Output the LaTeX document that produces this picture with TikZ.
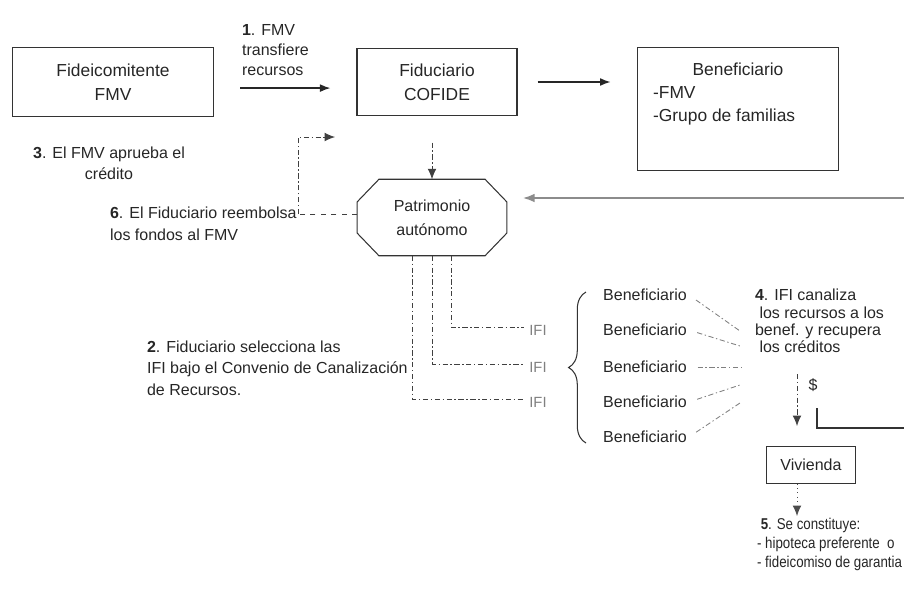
\documentclass[tikz,border=0pt]{standalone}
\usepackage{fontspec}
\setmainfont{Liberation Sans}
\newfontfamily\narrowfont[FakeStretch=0.85]{Liberation Sans}
\usepackage{tikz}
\usetikzlibrary{arrows.meta,positioning,calc,decorations.pathreplacing}

\begin{document}
\begin{tikzpicture}[x=0.575pt, y=-0.575pt,
    box style/.style={draw=black!80, line width=0.6pt, align=center, text=black!85, font=\fontsize{10}{14}\selectfont},
    label style/.style={align=left, text=black!85, inner sep=1pt, font=\fontsize{9.2}{11.5}\selectfont},
    ben style/.style={text=black!85, inner sep=1pt, font=\fontsize{9.2}{11}\selectfont},
    ifi style/.style={text=black!50, inner sep=1pt, font=\fontsize{8.5}{10}\selectfont},
    arrow style/.style={-{Latex[length=6pt,width=4.5pt]}, line width=0.7pt, draw=black!85},
    dashdot style/.style={line width=0.5pt, draw=black!75, dash pattern=on 3pt off 1.5pt on 0.8pt off 1.5pt},
    link style/.style={dashdot style, draw=black!50}
]
\useasboundingbox (0,0) rectangle (904,589);

\node[box style, minimum width=116pt, minimum height=40pt] (fideicomitente) at (113,82) {Fideicomitente\\FMV};
\node[box style, minimum width=92pt, minimum height=39pt] (fiduciario) at (437,82) {Fiduciario\\COFIDE};
\node[box style, minimum width=116pt, minimum height=71pt] (beneficiario) at (738,109) {};
\node[ben style, font=\fontsize{10}{14}\selectfont] (bentitle) at (738,69) {Beneficiario};
\node[ben style, align=left, anchor=west, font=\fontsize{10}{13.5}\selectfont] (benlist) at (651,106) {-FMV\\-Grupo de familias};

\node[label style, anchor=west, font=\fontsize{9.2}{11.5}\selectfont] (transfiere) at (240,50) {\textbf{1}. FMV\\transfiere\\recursos};
\node[label style, align=center, font=\fontsize{9.2}{12}\selectfont] (aprueba) at (109,163) {\textbf{3}. El FMV aprueba el\\crédito};
\node[label style, anchor=west, font=\fontsize{9.2}{12.6}\selectfont] (reembolsa) at (108,224) {\textbf{6}. El Fiduciario reembolsa\\los fondos al FMV};
\node[label style, anchor=west, font=\fontsize{9.2}{12.4}\selectfont] (selecciona) at (145,368) {\textbf{2}. Fiduciario selecciona las\\IFI bajo el Convenio de Canalización\\de Recursos.};

\node[minimum width=86pt, minimum height=44pt, inner sep=0pt, outer sep=0pt, align=center, text=black!85, font=\fontsize{9.2}{14}\selectfont] (patrimonio) at (432,217.5) {Patrimonio\\autónomo};
\draw[line width=0.6pt, draw=black!80] ([xshift=12.5pt]patrimonio.north west) -- ([xshift=-12.5pt]patrimonio.north east)
    -- ([yshift=-13pt]patrimonio.north east) -- ([yshift=13pt]patrimonio.south east)
    -- ([xshift=-12.5pt]patrimonio.south east) -- ([xshift=12.5pt]patrimonio.south west)
    -- ([yshift=13pt]patrimonio.south west) -- ([yshift=-13pt]patrimonio.north west) -- cycle;

\node[ifi style] (ifiA) at (538,330) {IFI};
\node[ifi style] (ifiB) at (538,367) {IFI};
\node[ifi style] (ifiC) at (538,402) {IFI};

\node[ben style] (ben1) at (645,295) {Beneficiario};
\node[ben style] (ben2) at (645,330) {Beneficiario};
\node[ben style] (ben3) at (645,367) {Beneficiario};
\node[ben style] (ben4) at (645,402) {Beneficiario};
\node[ben style] (ben5) at (645,437) {Beneficiario};

\node[label style, anchor=north west, font=\fontsize{9.2}{10}\selectfont] (canaliza) at (753,287) {\textbf{4}. IFI canaliza\\ \ los recursos a los\\benef. y recupera\\ \ los créditos};
\node[ben style] (dolar) at (813,385) {\$};
\node[box style, minimum width=51pt, minimum height=21pt, font=\fontsize{9.2}{11}\selectfont] (vivienda) at (811,465) {Vivienda};
\node[label style, anchor=north west, font=\narrowfont\fontsize{9}{11}\selectfont] (constituye) at (755,516) {\ \textbf{5}. Se constituye:\\- hipoteca preferente \ o\\- fideicomiso de garantia};

\coordinate (reembolso) at (298,214);
\coordinate (reembolsofin) at (335,137);
\coordinate (bordesup) at (908,198);
\coordinate (bordeinf) at (908,428);
\coordinate (retorno) at (817,408);
\coordinate (pago) at (797,374);
\coordinate (pagofin) at (797,426);
\coordinate (canal1) at (740,331);
\coordinate (canal2) at (740,346);
\coordinate (canal3) at (742,367);
\coordinate (canal4) at (740,385);
\coordinate (canal5) at (740,403);

\draw[arrow style, shorten <=15pt, shorten >=15pt] ([yshift=-3.5pt]fideicomitente.east) -- ([yshift=-3.5pt]fiduciario.west);
\draw[arrow style, shorten <=11.5pt, shorten >=15pt] (fiduciario.east) -- (beneficiario.west |- fiduciario.east);
\draw[dashdot style, -{Latex[length=6pt,width=5pt]}, shorten <=15pt] (patrimonio.north |- fiduciario.south) -- (patrimonio.north);
\draw[-{Latex[length=7pt,width=5pt]}, line width=1.3pt, draw=black!45, shorten >=9pt] (bordesup) -- (patrimonio.east |- bordesup);
\draw[line width=0.6pt, draw=black!80] (retorno) |- (bordeinf);

\draw[line width=0.5pt, draw=black!75, dashed] (patrimonio.west |- reembolso) -- (reembolso);
\draw[dashdot style, -{Latex[length=6pt,width=5pt]}] (reembolso) |- (reembolsofin);

\foreach \dx/\ifi in {11/ifiA, 0.5/ifiB, -11/ifiC}
    \draw[dashdot style, shorten >=2pt] ([xshift=\dx pt]patrimonio.south) |- ([yshift=1.5pt]\ifi.west);

\draw[line width=0.6pt, draw=black!80, decorate, decoration={brace, amplitude=10pt}] (586,443) -- (586,292);

\foreach \i in {1,...,5}
    \draw[link style, shorten <=5pt] (ben\i.east) -- (canal\i);

\draw[dashdot style, -{Latex[length=6pt,width=5pt]}] (pago) -- (pagofin);
\draw[line width=0.5pt, draw=black!70, dotted, -{Latex[length=6pt,width=5pt]}] (vivienda.south -| pago) -- (constituye.north -| pago);

\end{tikzpicture}
\end{document}
